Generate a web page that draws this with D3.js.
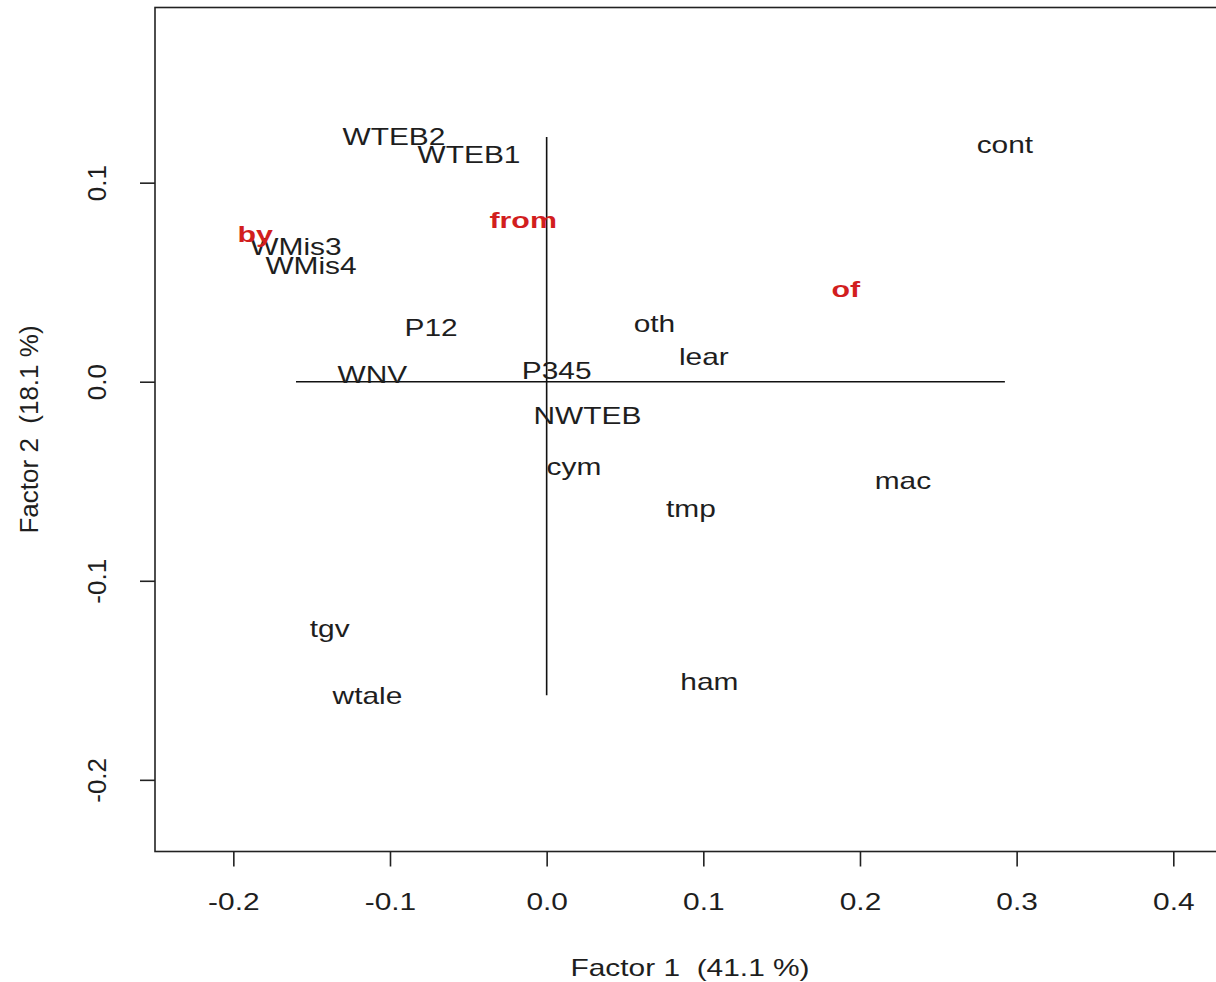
<!DOCTYPE html>
<html>
<head>
<meta charset="utf-8">
<script src="https://cdn.jsdelivr.net/npm/d3@7/dist/d3.min.js"></script>
<style>
  html, body { margin: 0; padding: 0; background: #fff; }
  svg { display: block; }
  text { font-family: "Liberation Sans", Arial, sans-serif; white-space: pre; }
</style>
</head>
<body>
<svg id="chart" width="1216" height="982"></svg>
<script>
// ---- data ----
const blackLabels = ["WTEB2", "WTEB1", "cont", "WMis3", "WMis4", "P12", "oth", "lear", "WNV", "P345", "NWTEB", "cym", "mac", "tmp", "tgv", "ham", "wtale"];
const blackX = [-0.0975, -0.0496, 0.2925, -0.160, -0.1504, -0.0738, 0.0688, 0.1003, -0.1112, 0.0064, 0.0260, 0.0174, 0.2274, 0.0921, -0.1385, 0.1039, -0.1144];
const blackY = [0.1230, 0.1140, 0.1193, 0.0677, 0.0585, 0.0270, 0.0291, 0.0128, 0.0035, 0.0057, -0.0169, -0.0429, -0.0496, -0.0638, -0.1240, -0.1506, -0.1575];
const redLabels = ["from", "by", "of"];
const redX = [-0.0150, -0.1860, 0.1910];
const redY = [0.0811, 0.0744, 0.0467];
const xTicks = [-0.2, -0.1, 0.0, 0.1, 0.2, 0.3, 0.4];
const yTicks = [-0.2, -0.1, 0.0, 0.1];
const xTitle = "Factor 1  (41.1 %)";
const yTitle = "Factor 2  (18.1 %)";

// ---- layout ----
const svg = d3.select("#chart");
const L = 155, R = 1225, T = 7.5, B = 851.5;
const x = d3.scaleLinear().domain([-0.25, 0.433]).range([L, R]);
const y = d3.scaleLinear().domain([-0.236, 0.188]).range([B, T]);
const fs = 23, sx = 1.3;
const ink = "#1e1e1e";
const fmt = d => d3.format(".1f")(d).replace("\u2212", "-");

// axes
const xAxis = d3.axisBottom(x).tickValues(xTicks).tickSize(15);
const gx = svg.append("g").attr("transform", `translate(0,${B})`).call(xAxis);
gx.select(".domain").remove();
gx.selectAll("line").attr("stroke", "#222").attr("stroke-width", 1.6);
gx.selectAll("text").remove();
gx.selectAll(".tick").append("text")
  .attr("transform", `translate(0,50) scale(${sx},1)`)
  .attr("text-anchor", "middle")
  .attr("dy", "0.36em")
  .attr("font-size", fs)
  .attr("fill", ink)
  .text(fmt);

const yAxis = d3.axisLeft(y).tickValues(yTicks).tickSize(15);
const gy = svg.append("g").attr("transform", `translate(${L},0)`).call(yAxis);
gy.select(".domain").remove();
gy.selectAll("line").attr("stroke", "#222").attr("stroke-width", 1.6);
gy.selectAll("text").remove();
gy.selectAll(".tick").append("text")
  .attr("transform", "translate(-58,0) rotate(-90)")
  .attr("text-anchor", "middle")
  .attr("dy", "0.36em")
  .attr("font-size", 26)
  .attr("fill", ink)
  .text(fmt);

// box
svg.append("rect").attr("x", L).attr("y", T).attr("width", R - L).attr("height", B - T)
  .attr("fill", "none").attr("stroke", "#222").attr("stroke-width", 1.6);

// titles
svg.append("text").attr("transform", `translate(${(L + R) / 2},976) scale(${sx},1)`).attr("text-anchor", "middle")
  .attr("font-size", fs).attr("fill", ink).text(xTitle);
svg.append("text").attr("transform", `translate(38,${(T + B) / 2}) rotate(-90)`).attr("text-anchor", "middle")
  .attr("font-size", 26).attr("fill", ink).text(yTitle);

// crosshair spanning the black points
const ex = d3.extent(blackX), ey = d3.extent(blackY);
svg.append("line").attr("x1", x(ex[0])).attr("x2", x(ex[1])).attr("y1", y(0)).attr("y2", y(0))
  .attr("stroke", "#111").attr("stroke-width", 1.6);
svg.append("line").attr("x1", x(0)).attr("x2", x(0)).attr("y1", y(ey[1])).attr("y2", y(ey[0]))
  .attr("stroke", "#111").attr("stroke-width", 1.6);

// labels
const black = blackLabels.map((l, i) => ({ l, x: blackX[i], y: blackY[i] }));
const red = redLabels.map((l, i) => ({ l, x: redX[i], y: redY[i] }));

svg.append("g").selectAll("text").data(black).join("text")
  .attr("transform", d => `translate(${x(d.x)},${y(d.y)}) scale(${sx},1)`)
  .attr("dy", "0.36em")
  .attr("text-anchor", "middle").attr("font-size", fs).attr("fill", ink)
  .text(d => d.l);

svg.append("g").selectAll("text").data(red).join("text")
  .attr("transform", d => `translate(${x(d.x)},${y(d.y)}) scale(1.38,1)`)
  .attr("dy", "0.36em")
  .attr("text-anchor", "middle").attr("font-size", 22).attr("font-weight", "bold").attr("fill", "#d21e1e")
  .text(d => d.l);
</script>
</body>
</html>
